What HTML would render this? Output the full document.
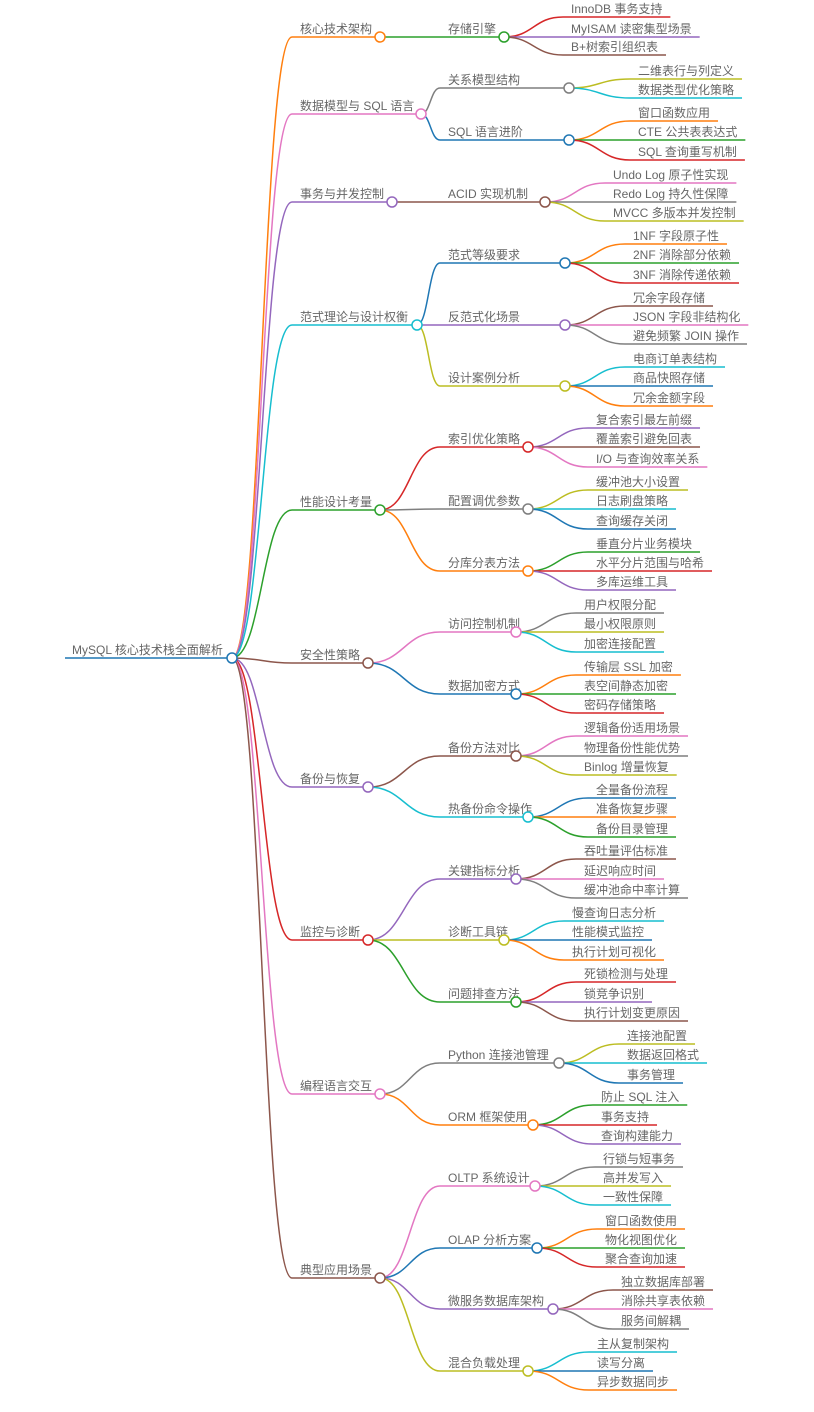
<!DOCTYPE html>
<html><head><meta charset="utf-8"><style>
html,body{margin:0;padding:0;background:#fff;}
svg{display:block;}
text{font-family:"Liberation Sans","Noto Sans CJK SC",sans-serif;font-size:12px;fill:#666;}
</style></head><body>
<svg id="s" width="814" height="1412" xmlns="http://www.w3.org/2000/svg"></svg>
<script>
var C={o:"#ff7f0e",p:"#e377c2",u:"#9467bd",c:"#17becf",g:"#2ca02c",b:"#8c564b",r:"#d62728",y:"#bcbd22",k:"#7f7f7f",l:"#1f77b4"};
var T=[
["核心技术架构",380,37,"o",[["存储引擎",504,37,"g",571,[[17,"InnoDB 事务支持","r"],[37,"MyISAM 读密集型场景","u"],[55,"B+树索引组织表","b"]]]]],
["数据模型与 SQL 语言",421,114,"p",[["关系模型结构",569,88,"k",638,[[79,"二维表行与列定义","y"],[98,"数据类型优化策略","c"]]],["SQL 语言进阶",569,140,"l",638,[[121,"窗口函数应用","o"],[140,"CTE 公共表表达式","g"],[160,"SQL 查询重写机制","r"]]]]],
["事务与并发控制",392,202,"u",[["ACID 实现机制",545,202,"b",613,[[183,"Undo Log 原子性实现","p"],[202,"Redo Log 持久性保障","k"],[221,"MVCC 多版本并发控制","y"]]]]],
["范式理论与设计权衡",417,325,"c",[["范式等级要求",565,263,"l",633,[[244,"1NF 字段原子性","o"],[263,"2NF 消除部分依赖","g"],[283,"3NF 消除传递依赖","r"]]],["反范式化场景",565,325,"u",633,[[306,"冗余字段存储","b"],[325,"JSON 字段非结构化","p"],[344,"避免频繁 JOIN 操作","k"]]],["设计案例分析",565,386,"y",633,[[367,"电商订单表结构","c"],[386,"商品快照存储","l"],[406,"冗余金额字段","o"]]]]],
["性能设计考量",380,510,"g",[["索引优化策略",528,447,"r",596,[[428,"复合索引最左前缀","u"],[447,"覆盖索引避免回表","b"],[467,"I/O 与查询效率关系","p"]]],["配置调优参数",528,509,"k",596,[[490,"缓冲池大小设置","y"],[509,"日志刷盘策略","c"],[529,"查询缓存关闭","l"]]],["分库分表方法",528,571,"o",596,[[552,"垂直分片业务模块","g"],[571,"水平分片范围与哈希","r"],[590,"多库运维工具","u"]]]]],
["安全性策略",368,663,"b",[["访问控制机制",516,632,"p",584,[[613,"用户权限分配","k"],[632,"最小权限原则","y"],[652,"加密连接配置","c"]]],["数据加密方式",516,694,"l",584,[[675,"传输层 SSL 加密","o"],[694,"表空间静态加密","g"],[713,"密码存储策略","r"]]]]],
["备份与恢复",368,787,"u",[["备份方法对比",516,756,"b",584,[[736,"逻辑备份适用场景","p"],[756,"物理备份性能优势","k"],[775,"Binlog 增量恢复","y"]]],["热备份命令操作",528,817,"c",596,[[798,"全量备份流程","l"],[817,"准备恢复步骤","o"],[837,"备份目录管理","g"]]]]],
["监控与诊断",368,940,"r",[["关键指标分析",516,879,"u",584,[[859,"吞吐量评估标准","b"],[879,"延迟响应时间","p"],[898,"缓冲池命中率计算","k"]]],["诊断工具链",504,940,"y",572,[[921,"慢查询日志分析","c"],[940,"性能模式监控","l"],[960,"执行计划可视化","o"]]],["问题排查方法",516,1002,"g",584,[[982,"死锁检测与处理","r"],[1002,"锁竞争识别","u"],[1021,"执行计划变更原因","b"]]]]],
["编程语言交互",380,1094,"p",[["Python 连接池管理",559,1063,"k",627,[[1044,"连接池配置","y"],[1063,"数据返回格式","c"],[1083,"事务管理","l"]]],["ORM 框架使用",533,1125,"o",601,[[1105,"防止 SQL 注入","g"],[1125,"事务支持","r"],[1144,"查询构建能力","u"]]]]],
["典型应用场景",380,1278,"b",[["OLTP 系统设计",535,1186,"p",603,[[1167,"行锁与短事务","k"],[1186,"高并发写入","y"],[1205,"一致性保障","c"]]],["OLAP 分析方案",537,1248,"l",605,[[1229,"窗口函数使用","o"],[1248,"物化视图优化","g"],[1267,"聚合查询加速","r"]]],["微服务数据库架构",553,1309,"u",621,[[1290,"独立数据库部署","b"],[1309,"消除共享表依赖","p"],[1329,"服务间解耦","k"]]],["混合负载处理",528,1371,"y",597,[[1352,"主从复制架构","c"],[1371,"读写分离","l"],[1390,"异步数据同步","o"]]]]]
];
var s=document.getElementById("s"),NS="http://www.w3.org/2000/svg",circles=[];
function el(n,a,t){var e=document.createElementNS(NS,n);for(var k in a)e.setAttribute(k,a[k]);if(t){e.textContent=t;}s.appendChild(e);return e;}
function edge(px,py,x0,y,x1,col){var m=(px+x0)/2;el("path",{d:"M"+px+","+py+" C"+m+","+py+" "+m+","+y+" "+x0+","+y+" L"+x1+","+y,fill:"none",stroke:col,"stroke-width":1.5});}
function txt(x,y,t){return el("text",{x:x,y:y-4},t);}
el("line",{x1:65,y1:658,x2:232,y2:658,stroke:C.l,"stroke-width":1.5});
txt(72,658,"MySQL 核心技术栈全面解析");
T.forEach(function(a){
 edge(232,658,292,a[2],a[1],C[a[3]]);txt(300,a[2],a[0]);
 circles.push([a[1],a[2],C[a[3]]]);
 a[4].forEach(function(b){
  edge(a[1],a[2],440,b[2],b[1],C[b[3]]);txt(448,b[2],b[0]);
  circles.push([b[1],b[2],C[b[3]]]);
  b[5].forEach(function(l){
   var t=txt(b[4],l[0],l[1]);var w=t.getComputedTextLength();
   edge(b[1],b[2],b[4]-8,l[0],b[4]+w+8,C[l[2]]);
   s.appendChild(t);
  });
 });
});
circles.push([232,658,C.l]);
circles.forEach(function(c){el("circle",{cx:c[0],cy:c[1],r:5,fill:"#fff",stroke:c[2],"stroke-width":1.5});});
</script>
</body></html>
